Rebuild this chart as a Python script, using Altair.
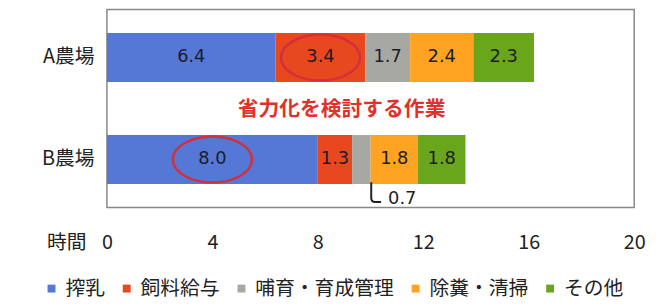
import altair as alt
import pandas as pd

farms = ["A農場", "B農場"]
tasks = ["搾乳", "飼料給与", "哺育・育成管理", "除糞・清掃", "その他"]
colors = ["#5577D6", "#E8481E", "#A8A8A2", "#FFA322", "#6AA61C"]
farm_a = [6.4, 3.4, 1.7, 2.4, 2.3]
farm_b = [8.0, 1.3, 0.7, 1.8, 1.8]
x_ticks = [0, 4, 8, 12, 16, 20]

rows = []
for farm, vals in zip(farms, [farm_a, farm_b]):
    start = 0.0
    for i, (t, v) in enumerate(zip(tasks, vals)):
        rows.append({"farm": farm, "task": t, "order": i, "value": v,
                     "start": start, "end": start + v, "mid": start + v / 2,
                     "label": f"{v:.1f}" if v >= 1.0 else ""})
        start += v
df = pd.DataFrame(rows)

circled = df[((df.farm == "A農場") & (df.task == "飼料給与")) |
             ((df.farm == "B農場") & (df.task == "搾乳"))]
small = df[df.value < 1.0].assign(note=lambda d: d.value.map(lambda v: f"{v:.1f}"))
note_df = pd.DataFrame({"farm": ["A農場"], "x": [8.9], "text": ["省力化を検討する作業"]})

font = "Noto Sans CJK JP"
W, H = 533, 200

xscale = alt.Scale(domain=[0, 20], nice=False, zero=True)
yscale = alt.Scale(domain=farms, paddingInner=0.52, paddingOuter=0.23)

bars = alt.Chart(df).mark_bar().encode(
    x=alt.X("start:Q", scale=xscale,
            axis=alt.Axis(values=x_ticks, grid=False, ticks=False, domain=False,
                          labelFontSize=20, labelFont=font, labelColor="#222",
                          labelBaseline="middle", labelPadding=35, labelFlush=False,
                          title="時間", titleFont=font, titleFontSize=20,
                          titleFontWeight="normal", titleColor="#222",
                          titleAnchor="start", titleAlign="left", titleBaseline="middle",
                          titleX=-61, titleY=35)),
    x2="end:Q",
    y=alt.Y("farm:N", scale=yscale,
            axis=alt.Axis(title=None, ticks=False, domain=False, labelFontSize=20,
                          labelFont=font, labelColor="#222", labelPadding=13)),
    color=alt.Color("task:N", scale=alt.Scale(domain=tasks, range=colors),
                    legend=alt.Legend(title=None, orient="none", legendX=-66, legendY=272,
                                      direction="horizontal", symbolType="square",
                                      symbolSize=64, symbolStrokeWidth=0,
                                      labelFont=font, labelFontSize=20, labelColor="#222",
                                      labelLimit=300, columnPadding=12, labelOffset=4)),
    order="order:Q",
)

labels = alt.Chart(df).mark_text(font="DejaVu Sans", fontSize=18, color="#1c1c2a").encode(
    x=alt.X("mid:Q", scale=xscale), y=alt.Y("farm:N", scale=yscale), text="label:N")

rings = alt.Chart(circled).mark_point(
    shape="M -1 0 A 1 0.58 0 1 1 1 0 A 1 0.58 0 1 1 -1 0 Z",
    size=6400, filled=False, color="#D2303A", strokeWidth=2.5, opacity=1).encode(
    x=alt.X("mid:Q", scale=xscale), y=alt.Y("farm:N", scale=yscale))

bracket = alt.Chart(small).mark_point(
    shape="M 0 -1 L 0 0.6 Q 0 1 0.4 1 L 1 1",
    size=400, filled=False, color="#222", strokeWidth=2, opacity=1, xOffset=10, yOffset=33).encode(
    x=alt.X("mid:Q", scale=xscale), y=alt.Y("farm:N", scale=yscale))

small_lbl = alt.Chart(small).mark_text(font="DejaVu Sans", fontSize=18, color="#222",
                                       align="left", dx=27, dy=40).encode(
    x=alt.X("mid:Q", scale=xscale), y=alt.Y("farm:N", scale=yscale), text="note:N")

note = alt.Chart(note_df).mark_text(font=font, fontSize=21, fontWeight="bold",
                                    color="#E0322A", dy=53).encode(
    x=alt.X("x:Q", scale=xscale), y=alt.Y("farm:N", scale=yscale), text="text:N")

chart = alt.layer(bars, labels, rings, bracket, small_lbl, note).properties(
    width=W, height=H,
    autosize=alt.AutoSizeParams(type="none"),
    padding={"left": 100, "top": 0, "right": 20, "bottom": 100},
).configure_view(stroke="#888", strokeWidth=1.5)

chart.save("out.html", embed_options={"renderer": "svg", "actions": False})
